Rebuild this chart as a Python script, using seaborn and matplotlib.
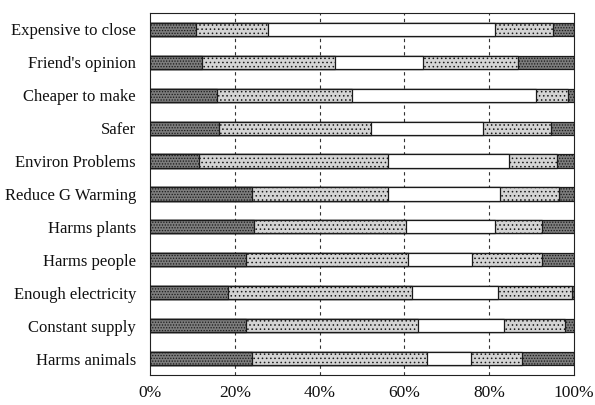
import matplotlib
matplotlib.use("Agg")
import matplotlib.pyplot as plt
import seaborn as sns
import numpy as np
import pandas as pd

sns.set_style("white")
plt.rcParams["font.family"] = ["Liberation Serif", "DejaVu Serif"]
plt.rcParams["hatch.linewidth"] = 0.6

# 问题类别(从上到下)
categories = ["Expensive to close", "Friend's opinion", "Cheaper to make", "Safer",
              "Environ Problems", "Reduce G Warming", "Harms plants", "Harms people",
              "Enough electricity", "Constant supply", "Harms animals"]
# 五个分段的百分比
seg1 = [10.8, 12.2, 15.7, 16.3, 11.6, 24.0, 24.6, 22.6, 18.5, 22.6, 24.0]
seg2 = [17.0, 31.4, 31.9, 35.7, 44.6, 32.2, 35.7, 38.3, 43.2, 40.5, 41.3]
seg3 = [53.6, 20.8, 43.4, 26.5, 28.5, 26.3, 21.1, 15.0, 20.3, 20.4, 10.4]
seg4 = [13.6, 22.4, 7.6, 16.0, 11.2, 14.0, 11.0, 16.5, 17.4, 14.4, 12.0]
seg5 = [5.0, 13.2, 1.4, 5.5, 4.1, 3.5, 7.6, 7.6, 0.6, 2.1, 12.3]
xticks = [0, 20, 40, 60, 80, 100]

segs = np.array([seg1, seg2, seg3, seg4, seg5])
cum = np.cumsum(segs, axis=0)
cum = cum / cum[-1] * 100

styles = [("#7c7c7c", "......"), ("#d4d4d4", "...."), ("white", ""),
          ("#d4d4d4", "...."), ("#7c7c7c", "......")]

fig = plt.figure(figsize=(5.95, 4.05), dpi=100)
ax = fig.add_axes([0.252, 0.074, 0.713, 0.894])

# 从右往左画累计值,实现堆叠效果
for i in range(4, -1, -1):
    df = pd.DataFrame({"cat": categories, "val": cum[i]})
    fc, hatch = styles[i]
    sns.barplot(data=df, x="val", y="cat", orient="h", color=fc, width=0.4,
                edgecolor="#1a1a1a", linewidth=0.9, hatch=hatch, saturation=1,
                ax=ax, zorder=3)

ax.set_xlim(0, 100)
ax.set_ylim(len(categories) - 0.5, -0.5)
ax.set_xlabel("")
ax.set_ylabel("")
ax.set_xticks(xticks)
ax.set_xticklabels(["%d%%" % t for t in xticks], fontsize=12.5, color="#111111")
ax.tick_params(axis="x", direction="in", length=4, width=0.8, pad=7)
ax.tick_params(axis="y", which="major", length=0, labelsize=12, pad=10,
               labelcolor="#111111")
ax.set_yticks(np.arange(-0.5, len(categories) + 0.5), minor=True)
ax.tick_params(axis="y", which="minor", direction="out", length=4, width=0.8)
for t in [20, 40, 60, 80]:
    ax.axvline(t, color="#333333", linestyle=(0, (3, 3)), linewidth=0.8, zorder=1)
for s in ax.spines.values():
    s.set_color("#222222")
    s.set_linewidth(0.8)

fig.savefig("out.png", dpi=100)
